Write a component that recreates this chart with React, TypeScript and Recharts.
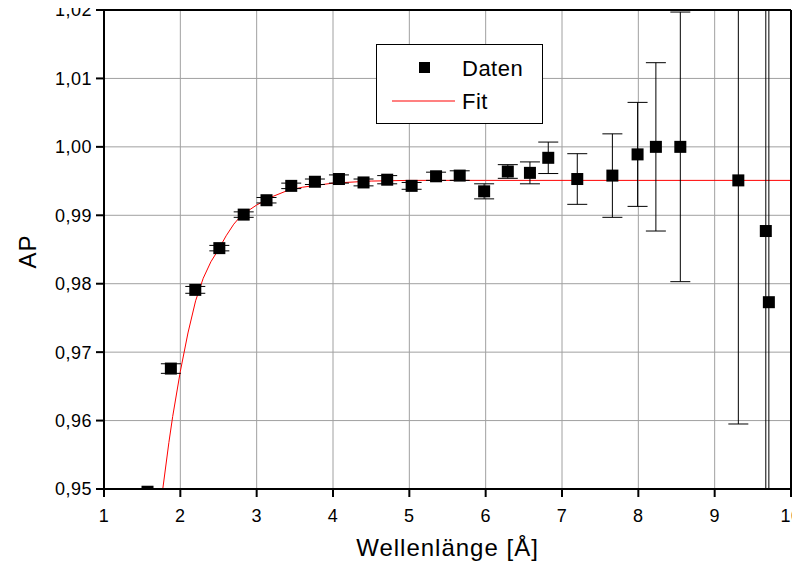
import React from 'react';
import * as R from 'recharts';
import { ComposedChart, Scatter, Line, XAxis, YAxis, CartesianGrid, ErrorBar, Legend } from 'recharts';

// measured points (Wellenlänge in Å, AP, error)
const waveLength = [1.57, 1.876, 2.196, 2.511, 2.83, 3.129, 3.453, 3.763, 4.078, 4.40, 4.71, 5.03, 5.35, 5.66, 5.98, 6.29, 6.58, 6.82, 7.20, 7.66, 7.99, 8.23, 8.55, 9.31, 9.67, 9.71];
const apValues = [0.9496, 0.9676, 0.9791, 0.9852, 0.9901, 0.9922, 0.9943, 0.9949, 0.9953, 0.9948, 0.9952, 0.9943, 0.9957, 0.9958, 0.9935, 0.9964, 0.9962, 0.9984, 0.9953, 0.9958, 0.9989, 1.0, 1.0, 0.9951, 0.9877, 0.9773];
const apErrors = [0.0003, 0.0007, 0.0005, 0.0004, 0.0004, 0.0004, 0.0004, 0.0004, 0.0006, 0.0005, 0.0006, 0.0005, 0.0006, 0.0007, 0.0011, 0.001, 0.0016, 0.0023, 0.0037, 0.0061, 0.0076, 0.0123, 0.0197, 0.0356, 0.08, 0.08];

// fit curve
const fitX = [1.74, 1.77, 1.85, 1.9, 2.0, 2.1, 2.2, 2.3, 2.4, 2.5, 2.6, 2.7, 2.8, 3.0, 3.2, 3.4, 3.6, 3.8, 4.0, 4.5, 5.0, 6.0, 8.0, 10.0];
const fitY = [0.9478, 0.95, 0.9568, 0.9606, 0.9672, 0.9728, 0.9775, 0.9808, 0.9832, 0.985, 0.987, 0.9887, 0.99, 0.9915, 0.9927, 0.9936, 0.9941, 0.9944, 0.9947, 0.995, 0.9951, 0.9951, 0.9951, 0.9951];

const xMajor = [1, 2, 3, 4, 5, 6, 7, 8, 9, 10];
const xMinor = [1.5, 2.5, 3.5, 4.5, 5.5, 6.5, 7.5, 8.5, 9.5];
const yMajor = [0.95, 0.96, 0.97, 0.98, 0.99, 1.0, 1.01, 1.02];
const yMinor = [0.955, 0.965, 0.975, 0.985, 0.995, 1.005, 1.015];

const points = waveLength.map((x, i) => ({ x, y: apValues[i], err: apErrors[i] }));
const fit = fitX.map((x, i) => ({ x, y: fitY[i] }));

const FONT = '"Liberation Sans", Arial, sans-serif';
const X_DOMAIN = [1, 10];
const Y_DOMAIN = [0.95, 1.02];
const TICK_LINE = { stroke: '#000', strokeWidth: 2 };
const AXIS_LINE = { stroke: '#000', strokeWidth: 2 };
const TICK_TEXT = { fontSize: 18, fontFamily: FONT, fill: '#000' };

const Square = ({ cx, cy }: any) => <rect x={cx - 6} y={cy - 6} width={12} height={12} fill="#000" />;

const LegendBox = () => (
  <svg width={167} height={80} style={{ display: 'block' }}>
    <rect x={0.5} y={0.5} width={166} height={79} fill="#fff" stroke="#000" strokeWidth={1} />
    <rect x={43} y={18} width={11} height={11} fill="#000" />
    <text x={86} y={32} fontSize={22} fontFamily={FONT} fill="#000" style={{ letterSpacing: 0.5 }}>Daten</text>
    <line x1={16} x2={79} y1={57} y2={57} stroke="#ff8080" strokeWidth={2} />
    <text x={86} y={65} fontSize={22} fontFamily={FONT} fill="#000" style={{ letterSpacing: 0.5 }}>Fit</text>
  </svg>
);

const YLabel = ({ viewBox }: any) => {
  const cx = viewBox.x + 18;
  const cy = viewBox.y + viewBox.height / 2 + 2;
  return (
    <text x={cx} y={cy} transform={`rotate(-90 ${cx} ${cy})`} textAnchor="middle" dominantBaseline="central" fontSize={24} fontFamily={FONT} fill="#000" style={{ letterSpacing: 1 }}>
      AP
    </text>
  );
};

const XLabel = ({ viewBox }: any) => {
  const cx = viewBox.x + viewBox.width / 2;
  return (
    <text x={cx} y={viewBox.y + 67} textAnchor="middle" fontSize={24} fontFamily={FONT} fill="#000" style={{ letterSpacing: 1 }}>
      Wellenlänge [Å]
    </text>
  );
};

// clip error bars and markers to the plot area, like the original
const PlotClip = () => {
  const area = (R as any).usePlotArea();
  if (!area) return null;
  return (
    <defs>
      <clipPath id="plot-clip">
        <rect x={area.x} y={area.y} width={area.width} height={area.height} />
      </clipPath>
    </defs>
  );
};

export default function App() {
  return (
    <div style={{ width: 792, height: 564, position: 'relative', background: '#fff' }}>
      <style>{`
        html, body { overflow: hidden; }
        .recharts-wrapper, .recharts-surface { overflow: visible !important; }
        .recharts-errorBars, .recharts-scatter-symbol, .recharts-line-curve { clip-path: url(#plot-clip); }
        .recharts-cartesian-axis-tick-value { letter-spacing: 0.5px; }
      `}</style>
      <ComposedChart width={792} height={564} margin={{ top: 2, right: 9, bottom: 0, left: 0 }}>
        <PlotClip />
        {/* 1px minor tick axes first, so they sit right on the frame */}
        <XAxis xAxisId="bottomMinor" type="number" domain={X_DOMAIN} allowDataOverflow ticks={xMinor} interval={0}
          height={1} tickSize={5} tick={false} axisLine={false} tickLine={TICK_LINE} />
        <YAxis yAxisId="leftMinor" type="number" domain={Y_DOMAIN} allowDataOverflow ticks={yMinor} interval={0}
          width={1} tickSize={5} tick={false} axisLine={false} tickLine={TICK_LINE} />
        <XAxis
          xAxisId="bottom"
          dataKey="x"
          type="number"
          domain={X_DOMAIN}
          allowDataOverflow
          ticks={xMajor}
          interval={0}
          height={82}
          tickSize={8}
          tickMargin={12}
          tickLine={TICK_LINE}
          tick={TICK_TEXT}
          axisLine={AXIS_LINE}
          label={{ content: XLabel }}
        />
        <YAxis
          yAxisId="left"
          dataKey="y"
          type="number"
          domain={Y_DOMAIN}
          allowDataOverflow
          ticks={yMajor}
          interval={0}
          width={95}
          tickSize={8}
          tickMargin={4}
          tickLine={TICK_LINE}
          tick={TICK_TEXT}
          tickFormatter={(v: number) => v.toFixed(2).replace('.', ',')}
          axisLine={AXIS_LINE}
          label={{ content: YLabel }}
        />
        {/* mirrored frame on top and right, ticks pointing inwards */}
        <XAxis xAxisId="top" orientation="top" mirror type="number" domain={X_DOMAIN} allowDataOverflow ticks={xMajor} interval={0}
          height={1} tickSize={8} tick={false} axisLine={AXIS_LINE} tickLine={TICK_LINE} />
        <XAxis xAxisId="topMinor" orientation="top" mirror type="number" domain={X_DOMAIN} allowDataOverflow ticks={xMinor} interval={0}
          height={1} tickSize={5} tick={false} axisLine={false} tickLine={TICK_LINE} />
        <YAxis yAxisId="right" orientation="right" mirror type="number" domain={Y_DOMAIN} allowDataOverflow ticks={yMajor} interval={0}
          width={1} tickSize={8} tick={false} axisLine={AXIS_LINE} tickLine={TICK_LINE} />
        <YAxis yAxisId="rightMinor" orientation="right" mirror type="number" domain={Y_DOMAIN} allowDataOverflow ticks={yMinor} interval={0}
          width={1} tickSize={5} tick={false} axisLine={false} tickLine={TICK_LINE} />
        <CartesianGrid xAxisId="bottom" yAxisId="left" stroke="#a0a0a0" strokeWidth={1} />
        <Line
          xAxisId="bottom"
          yAxisId="left"
          data={fit}
          dataKey="y"
          type="linear"
          stroke="#ff0000"
          strokeWidth={1}
          dot={false}
          activeDot={false}
          legendType="line"
          isAnimationActive={false}
        />
        <Scatter
          xAxisId="bottom"
          yAxisId="left"
          data={points}
          dataKey="y"
          shape={Square}
          isAnimationActive={false}
        >
          <ErrorBar dataKey="err" direction="y" width={10} stroke="#000" strokeWidth={1} isAnimationActive={false} />
        </Scatter>
        <Legend
          verticalAlign="middle"
          align="center"
          layout="horizontal"
          content={LegendBox}
          wrapperStyle={{ left: 368, top: 36, width: 167, height: 80 }}
        />
      </ComposedChart>
    </div>
  );
}
